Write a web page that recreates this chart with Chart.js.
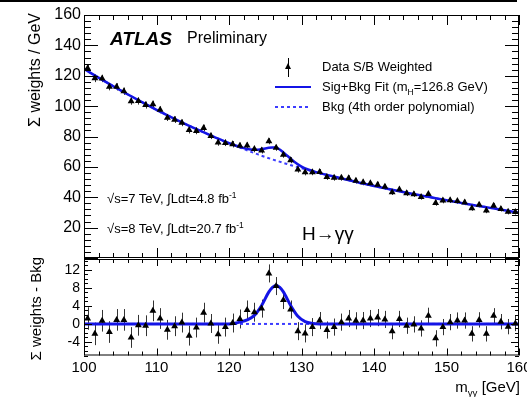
<!DOCTYPE html>
<html>
<head>
<meta charset="utf-8">
<script src="https://cdn.jsdelivr.net/npm/chart.js@4.4.1/dist/chart.umd.min.js"></script>
<style>
  body { margin: 0; background: #fff; }
  #wrap { position: relative; width: 527px; height: 397px; overflow: hidden;
          font-family: 'Liberation Sans', Arial, sans-serif; color: #000; }
  canvas { position: absolute; left: 0; }
  .txt { position: absolute; white-space: nowrap; line-height: 1; }
  .rot { position: absolute; width: 200px; height: 20px; line-height: 20px; text-align: right;
         white-space: nowrap; transform: rotate(-90deg); }
  sub, sup { font-size: 65%; line-height: 0; }
</style>
</head>
<body>
<div id="wrap">
  <div style="position:absolute;left:0;top:0;width:517px;height:2px;background:#000"></div>
  <canvas id="mainChart" width="527" height="259" style="top:0"></canvas>
  <canvas id="diffChart" width="527" height="139" style="top:258px"></canvas>

  <div class="rot" style="left:-65px;top:103px;font-size:16px">&Sigma; weights / GeV</div>
  <div class="rot" style="left:-64px;top:347px;font-size:15px">&Sigma; weights - Bkg</div>

  <div class="txt" style="left:110px;top:29px;font-size:19px;font-weight:bold;font-style:italic">ATLAS</div>
  <div class="txt" style="left:187px;top:30px;font-size:16px">Preliminary</div>

  <div style="position:absolute;left:288px;top:58px;width:1px;height:19px;background:#000"></div>
  <div style="position:absolute;left:285px;top:63px;width:0;height:0;border-left:3.5px solid transparent;border-right:3.5px solid transparent;border-bottom:6px solid #000"></div>
  <div class="txt" style="left:322px;top:60px;font-size:13px">Data S/B Weighted</div>
  <div style="position:absolute;left:275px;top:86px;width:36px;height:2px;background:#1414e6"></div>
  <div class="txt" style="left:322px;top:80px;font-size:13px">Sig+Bkg Fit (m<sub>H</sub>=126.8 GeV)</div>
  <div style="position:absolute;left:275px;top:106px;width:36px;height:2px;background:repeating-linear-gradient(to right,#3c3cff 0 3px,transparent 3px 6px)"></div>
  <div class="txt" style="left:322px;top:100px;font-size:13px">Bkg (4th order polynomial)</div>

  <div class="txt" style="left:107px;top:192px;font-size:13px">&radic;s=7 TeV, &int;Ldt=4.8 fb<sup>-1</sup></div>
  <div class="txt" style="left:107px;top:222px;font-size:13px">&radic;s=8 TeV, &int;Ldt=20.7 fb<sup>-1</sup></div>
  <div class="txt" style="left:302px;top:224px;font-size:19px">H&rarr;&gamma;&gamma;</div>

  <div class="txt" style="right:7px;top:379px;font-size:15px">m<sub>&gamma;&gamma;</sub> [GeV]</div>
</div>
<script>
// bin centres (GeV)
const binMass = [100.5,101.5,102.5,103.5,104.5,105.5,106.5,107.5,108.5,109.5,
                 110.5,111.5,112.5,113.5,114.5,115.5,116.5,117.5,118.5,119.5,
                 120.5,121.5,122.5,123.5,124.5,125.5,126.5,127.5,128.5,129.5,
                 130.5,131.5,132.5,133.5,134.5,135.5,136.5,137.5,138.5,139.5,
                 140.5,141.5,142.5,143.5,144.5,145.5,146.5,147.5,148.5,149.5,
                 150.5,151.5,152.5,153.5,154.5,155.5,156.5,157.5,158.5,159.5];

// weighted data, upper panel
const weights = [125.0,118.3,118.2,112.8,112.7,109.8,103.2,103.3,100.7,101.3,
                 97.6,92.4,91.1,89.0,84.2,83.7,85.6,80.4,76.0,75.8,
                 74.9,73.9,74.1,71.7,70.8,76.9,72.6,68.0,64.4,58.2,
                 56.4,56.5,56.7,53.3,52.8,52.8,52.5,50.9,49.8,49.2,
                 48.3,46.9,43.3,45.1,42.6,42.0,40.2,42.1,36.2,37.8,
                 38.0,37.5,36.6,32.8,35.1,31.2,34.4,32.3,30.4,30.3];

// data minus background, lower panel
const residuals = [1.2,-2.2,0.7,-1.8,0.9,0.9,-3.0,-0.3,-0.4,2.9,
                   1.2,-1.3,-0.5,0.3,-2.6,-0.8,2.5,0.1,-2.3,-0.7,
                   0.2,1.1,3.1,2.6,3.4,11.2,8.4,5.3,3.2,-1.6,
                   -2.1,-0.7,0.75,-1.35,-0.7,0.4,1.2,0.7,0.75,1.2,
                   1.4,1.0,-1.6,1.1,-0.4,-0.1,-1.0,1.8,-3.2,-0.7,
                   0.4,0.75,0.75,-2.2,0.9,-2.2,1.8,0.5,-0.6,0.1];

const errs = [2.5,2.5,2.4,2.4,2.4,2.4,2.3,2.3,2.3,2.3,
              2.3,2.2,2.2,2.2,2.2,2.2,2.2,2.1,2.1,2.1,
              2.1,2.1,2.1,2.1,2.0,2.0,2.0,2.0,2.0,2.0,
              2.0,2.0,1.9,1.9,1.9,1.9,1.9,1.9,1.9,1.9,
              1.9,1.9,1.8,1.8,1.8,1.8,1.8,1.8,1.8,1.8,
              1.8,1.8,1.8,1.7,1.7,1.7,1.7,1.7,1.7,1.7];

// background polynomial
const bkgMass = [100,102,104,106,108,110,112,114,116,118,120,122,124,126,128,130,
                 132,134,136,138,140,142,144,146,148,150,152,154,156,158,160];
const bkgCurve = [124.5,118.8,113.2,107.8,102.6,97.6,92.8,88.2,83.8,79.6,75.6,71.8,68.2,64.9,61.9,59.1,
                  56.5,54.1,51.8,49.6,47.4,45.4,43.5,41.6,39.8,38.0,36.3,34.6,33.0,31.4,29.8];

// signal + background fit
const fitMass = [100,102,104,106,108,110,112,114,116,118,120,121,122,123,124,125,126,126.5,127,128,129,130,131,132,
                 134,136,138,140,142,144,146,148,150,152,154,156,158,160];
const fitCurve = [124.5,118.8,113.2,107.8,102.6,97.6,92.8,88.2,83.8,79.6,75.6,73.9,72.45,71.4,71.2,72.15,72.7,72.8,71.4,67.5,63.4,60.2,58.1,56.55,
                  54.1,51.8,49.6,47.4,45.4,43.5,41.6,39.8,38.0,36.3,34.6,33.0,31.4,29.8];

// signal component, lower panel
const sigMass = [100,120,121,121.5,122.5,123.5,124.5,125.5,126,126.5,127,127.5,128.5,129.5,130.5,131.5,132.5,160];
const sigCurve = [0,0,0.2,0.4,0.9,1.9,4.1,7.1,8.1,8.6,8.1,7.1,4.1,1.7,0.5,0.1,0,0];

const zeroMass = [100,160];
const zeroLine = [0,0];

const xTicks = [100,110,120,130,140,150,160];
const yMainTicks = [20,40,60,80,100,120,140,160];
const yDiffTicks = [-4,0,4,8,12];

const FONT = "'Liberation Sans', Arial, sans-serif";
const BLUE = '#1414e6';
const BLUE_DOT = '#3c3cff';

const pts = (xs, ys) => xs.map((x, i) => ({ x: x, y: ys[i] }));

// frame with inward ticks on all four sides
const frameTicks = {
    id: 'frameTicks',
    afterDraw(chart, args, o) {
        const ctx = chart.ctx, a = chart.chartArea;
        const x = chart.scales.x, y = chart.scales.y;
        ctx.save();
        ctx.strokeStyle = '#000';
        ctx.lineWidth = 1;
        ctx.strokeRect(a.left + 0.5, a.top + 0.5, a.right - a.left - 1, a.bottom - a.top - 1);
        ctx.beginPath();
        for (let k = Math.ceil(x.min / o.xMinor); k * o.xMinor <= x.max; k++) {
            const v = k * o.xMinor;
            const px = Math.round(x.getPixelForValue(v)) + 0.5;
            const len = (Math.abs(v % o.xMajor) < 1e-6) ? o.xMajLen : o.xMinLen;
            ctx.moveTo(px, a.bottom); ctx.lineTo(px, a.bottom - len);
            ctx.moveTo(px, a.top); ctx.lineTo(px, a.top + len);
        }
        for (let k = Math.ceil(y.min / o.yMinor); k * o.yMinor <= y.max; k++) {
            const v = k * o.yMinor;
            const py = Math.round(y.getPixelForValue(v)) + 0.5;
            const len = (Math.abs(v % o.yMajor) < 1e-6) ? o.yMajLen : o.yMinLen;
            ctx.moveTo(a.left, py); ctx.lineTo(a.left + len, py);
            ctx.moveTo(a.right, py); ctx.lineTo(a.right - len, py);
        }
        ctx.stroke();
        ctx.restore();
    }
};

// vertical error bars for the first dataset
const errorBars = {
    id: 'errorBars',
    beforeDatasetsDraw(chart) {
        const ds = chart.data.datasets[0];
        const meta = chart.getDatasetMeta(0);
        const y = chart.scales.y, ctx = chart.ctx;
        ctx.save();
        ctx.strokeStyle = '#333';
        ctx.lineWidth = 1;
        ctx.beginPath();
        meta.data.forEach((p, i) => {
            const v = ds.data[i].y, e = ds.errs[i];
            const px = Math.round(p.x) + 0.5;
            ctx.moveTo(px, y.getPixelForValue(v + e));
            ctx.lineTo(px, y.getPixelForValue(v - e));
        });
        ctx.stroke();
        ctx.restore();
    }
};

const dataStyle = { showLine: false, pointStyle: 'triangle', pointRadius: 4, pointHoverRadius: 4,
                    pointBackgroundColor: '#000', pointBorderColor: '#000', pointBorderWidth: 0 };

// fixed axis width, no label overhang padding
const fixY = (axis) => { axis.width = 84; axis.paddingTop = 0; axis.paddingBottom = 0; };

new Chart(document.getElementById('mainChart'), {
    type: 'line',
    data: {
        datasets: [
            Object.assign({ label: 'Data S/B Weighted', data: pts(binMass, weights), errs: errs }, dataStyle),
            { label: 'Sig+Bkg Fit', data: pts(fitMass, fitCurve), borderColor: BLUE, borderWidth: 2.5,
              pointRadius: 0, cubicInterpolationMode: 'monotone', fill: false },
            { label: 'Bkg', data: pts(bkgMass, bkgCurve), borderColor: BLUE_DOT, borderWidth: 2,
              borderDash: [3, 3], pointRadius: 0, cubicInterpolationMode: 'monotone', fill: false }
        ]
    },
    options: {
        responsive: false,
        animation: false,
        devicePixelRatio: 1,
        layout: { autoPadding: false, padding: { top: 15, right: 8, bottom: 1, left: 0 } },
        plugins: {
            legend: { display: false },
            tooltip: { enabled: false },
            frameTicks: { xMinor: 2, xMajor: 10, xMajLen: 10, xMinLen: 5,
                          yMinor: 4, yMajor: 20, yMajLen: 14, yMinLen: 7 }
        },
        scales: {
            x: { type: 'linear', min: 100, max: 160, display: false },
            y: {
                min: 0, max: 160,
                grid: { display: false, drawTicks: false },
                border: { display: false },
                ticks: { color: '#000', padding: 3, font: { family: FONT, size: 16 } },
                afterBuildTicks: (axis) => { axis.ticks = yMainTicks.map(v => ({ value: v })); },
                afterFit: fixY
            }
        }
    },
    plugins: [frameTicks, errorBars]
});

new Chart(document.getElementById('diffChart'), {
    type: 'line',
    data: {
        datasets: [
            Object.assign({ label: 'Data - Bkg', data: pts(binMass, residuals), errs: errs }, dataStyle),
            { label: 'Signal', data: pts(sigMass, sigCurve), borderColor: BLUE, borderWidth: 3,
              pointRadius: 0, cubicInterpolationMode: 'monotone', fill: false },
            { label: 'Bkg', data: pts(zeroMass, zeroLine), borderColor: BLUE_DOT, borderWidth: 2,
              borderDash: [3, 3], pointRadius: 0, fill: false }
        ]
    },
    options: {
        responsive: false,
        animation: false,
        devicePixelRatio: 1,
        layout: { autoPadding: false, padding: { top: 1, right: 8, bottom: 0, left: 0 } },
        plugins: {
            legend: { display: false },
            tooltip: { enabled: false },
            frameTicks: { xMinor: 2, xMajor: 10, xMajLen: 7, xMinLen: 4,
                          yMinor: 1, yMajor: 4, yMajLen: 8, yMinLen: 4 }
        },
        scales: {
            x: {
                type: 'linear', min: 100, max: 160,
                grid: { display: false, drawTicks: false },
                border: { display: false },
                ticks: { color: '#000', padding: 3, maxRotation: 0, autoSkip: false,
                         font: { family: FONT, size: 15 } },
                afterBuildTicks: (axis) => { axis.ticks = xTicks.map(v => ({ value: v })); },
                afterFit: (axis) => { axis.height = 41.5; axis.paddingLeft = 0; axis.paddingRight = 0; }
            },
            y: {
                min: -7, max: 14.4,
                grid: { display: false, drawTicks: false },
                border: { display: false },
                ticks: { color: '#000', padding: 4, font: { family: FONT, size: 14 } },
                afterBuildTicks: (axis) => { axis.ticks = yDiffTicks.map(v => ({ value: v })); },
                afterFit: fixY
            }
        }
    },
    plugins: [frameTicks, errorBars]
});
</script>
</body>
</html>
